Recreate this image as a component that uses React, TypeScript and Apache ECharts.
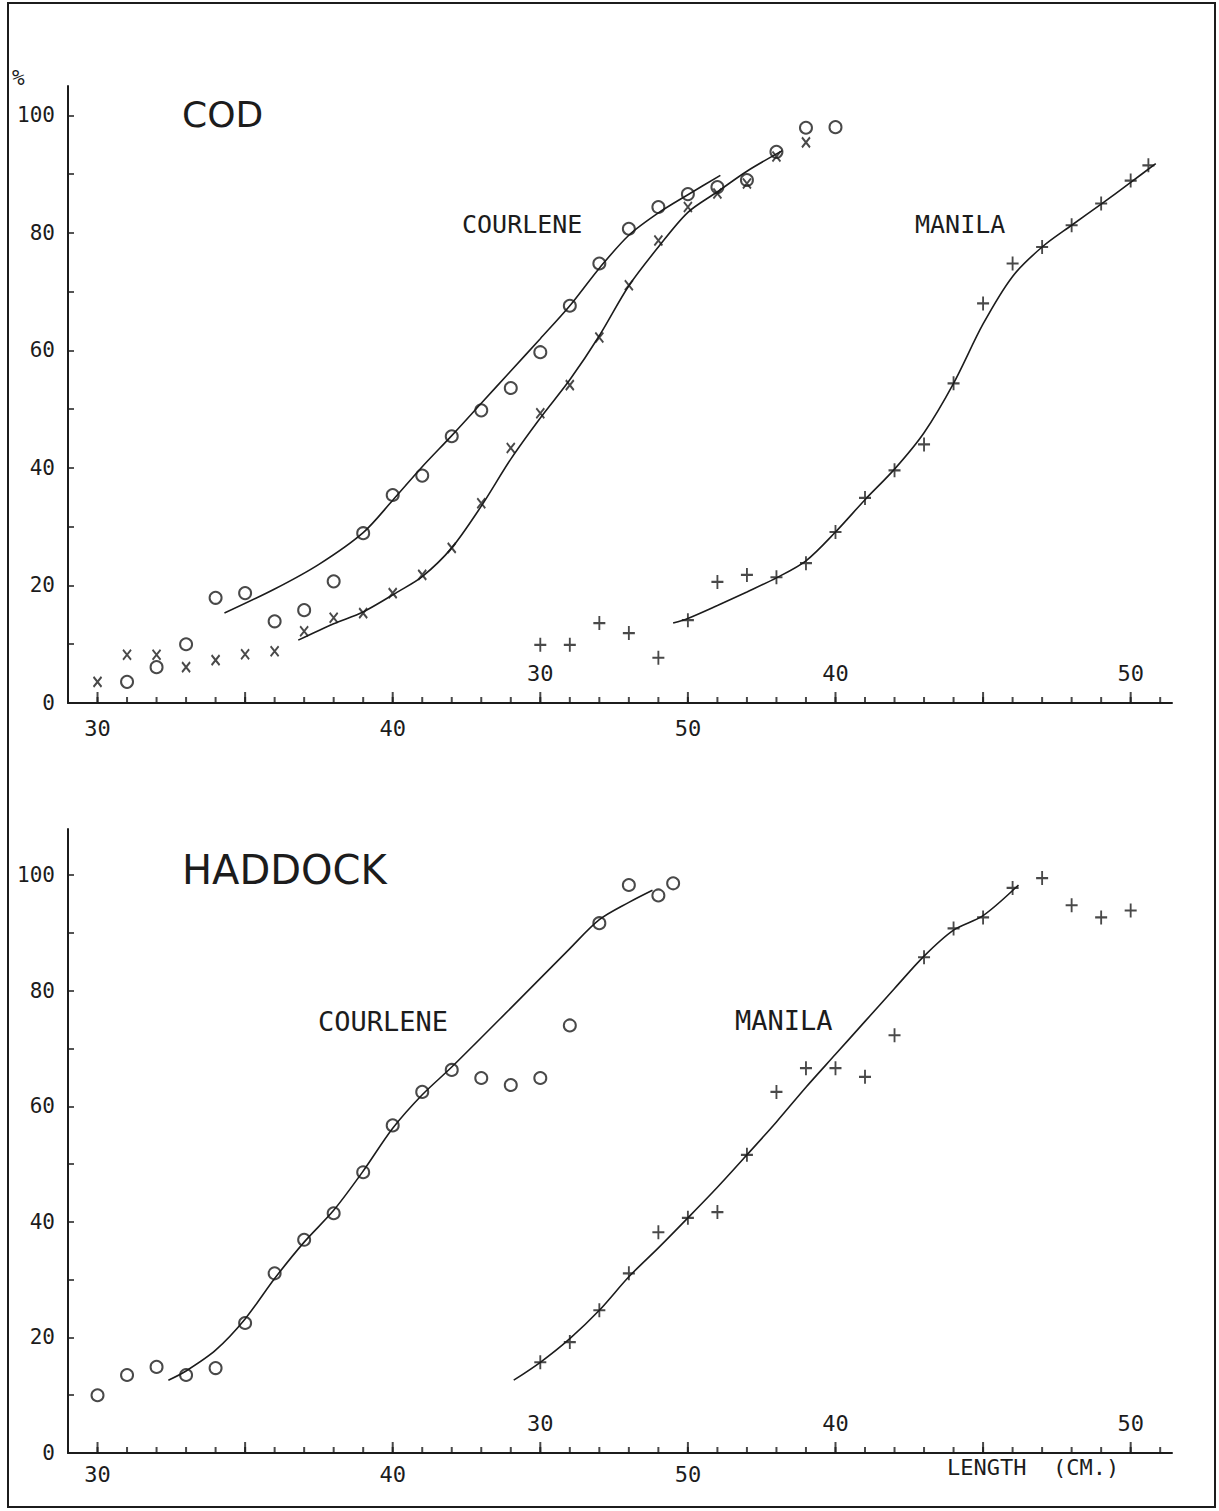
import React, { useEffect, useRef } from "react";
import * as echarts from "echarts";

// ---------- DATA ----------
// Axis tick / label values (cm for x, % for y)
const X_MINOR_TICKS = [30, 31, 32, 33, 34, 35, 36, 37, 38, 39, 40, 41, 42, 43, 44, 45, 46, 47, 48, 49, 50, 51, 52, 53, 54, 55, 56, 57, 58, 59, 60, 61, 62, 63, 64, 65, 66];
const X_MAJOR_TICKS = [30, 35, 40, 45, 50, 55, 60, 65];
const X_LABELS = [30, 40, 50];
const MANILA_LABELS = [30, 40, 50];
const Y_TICKS = [0, 10, 20, 30, 40, 50, 60, 70, 80, 90, 100];
const Y_LABELS = [0, 20, 40, 60, 80, 100];

// COD - Courlene (circles)
const codCircleLen = [31, 32, 33, 34, 35, 36, 37, 38, 39, 40, 41, 42, 43, 44, 45, 46, 47, 48, 49, 50, 51, 52, 53, 54, 55];
const codCirclePct = [3.6, 6.1, 10.0, 17.9, 18.7, 13.9, 15.8, 20.7, 28.9, 35.4, 38.7, 45.4, 49.8, 53.6, 59.7, 67.6, 74.8, 80.7, 84.4, 86.6, 87.8, 89.0, 93.8, 97.9, 98.0];
// COD - Courlene (crosses)
const codXLen = [30, 31, 32, 33, 34, 35, 36, 37, 38, 39, 40, 41, 42, 43, 44, 45, 46, 47, 48, 49, 50, 51, 52, 53, 54];
const codXPct = [3.6, 8.2, 8.2, 6.1, 7.3, 8.3, 8.8, 12.2, 14.5, 15.3, 18.7, 21.8, 26.4, 34.0, 43.4, 49.3, 54.1, 62.2, 71.1, 78.7, 84.4, 86.7, 88.4, 93.0, 95.4];
// COD - Manila (plus), manila length scale
const codManLen = [30, 31, 32, 33, 34, 35, 36, 37, 38, 39, 40, 41, 42, 43, 44, 45, 46, 47, 48, 49, 50, 50.6];
const codManPct = [9.9, 9.9, 13.6, 11.9, 7.7, 14.1, 20.6, 21.8, 21.4, 23.8, 29.1, 34.9, 39.6, 44.0, 54.4, 68.0, 74.8, 77.6, 81.3, 85.0, 88.9, 91.5];
// COD fitted curves
const codCircleCurveLen = [34.3, 36, 37.5, 39, 40, 41, 42, 43, 44, 45, 46, 47, 48, 49, 50, 51.1];
const codCircleCurvePct = [15.3, 19.4, 23.6, 29.0, 34.5, 40.2, 45.5, 51.0, 56.5, 62.0, 67.6, 74.0, 79.6, 83.4, 86.5, 89.8];
const codXCurveLen = [36.8, 38, 39, 40.2, 41, 42, 43, 44, 45, 46, 47, 48, 49, 50, 51, 52, 53.2];
const codXCurvePct = [10.7, 13.5, 15.5, 19.0, 21.5, 26.4, 33.5, 41.5, 48.5, 55.0, 62.5, 71.0, 77.6, 83.5, 87.0, 90.5, 94.0];
const codManCurveLen = [34.5, 35, 36, 37, 38, 39, 40, 41, 42, 43, 44, 45, 46, 47, 48, 49, 50, 50.85];
const codManCurvePct = [13.6, 14.4, 16.6, 18.9, 21.3, 24.2, 29.1, 34.6, 39.8, 46.0, 54.4, 64.5, 72.6, 77.6, 81.3, 84.9, 88.6, 91.8];

// HADDOCK - Courlene (circles)
const hadCircleLen = [30, 31, 32, 33, 34, 35, 36, 37, 38, 39, 40, 41, 42, 43, 44, 45, 46, 47, 48, 49, 49.5];
const hadCirclePct = [10.0, 13.5, 14.9, 13.5, 14.7, 22.5, 31.1, 36.9, 41.5, 48.6, 56.7, 62.5, 66.3, 64.9, 63.7, 64.9, 74.0, 91.7, 98.3, 96.5, 98.6];
// HADDOCK - Manila (plus), manila length scale
const hadManLen = [30, 31, 32, 33, 34, 35, 36, 37, 38, 39, 40, 41, 42, 43, 44, 45, 46, 47, 48, 49, 50];
const hadManPct = [15.7, 19.2, 24.7, 31.1, 38.2, 40.7, 41.7, 51.6, 62.5, 66.6, 66.6, 65.1, 72.3, 85.8, 90.8, 92.7, 97.8, 99.5, 94.8, 92.7, 93.9];
// HADDOCK fitted curves
const hadCourCurveLen = [32.4, 33, 34, 35, 36, 37, 38, 39, 40, 41, 42, 44, 46, 47, 48, 48.8];
const hadCourCurvePct = [12.6, 14.2, 17.8, 23.2, 30.2, 36.5, 42.0, 48.8, 56.2, 62.0, 66.8, 77.0, 87.3, 92.3, 95.3, 97.4];
const hadManCurveLen = [29.1, 30, 31, 32, 33, 34, 35, 36, 37, 38, 39, 40, 41, 42, 43, 44, 45, 46.2];
const hadManCurvePct = [12.6, 15.7, 19.8, 24.7, 30.5, 35.5, 40.7, 46.0, 51.6, 57.3, 63.3, 69.0, 74.7, 80.4, 86.0, 90.5, 93.0, 98.3];

// ---------- STYLE ----------
const INK = "#1c1c1c";
const MONO = "'DejaVu Sans Mono', monospace";
const SANS = "'DejaVu Sans', sans-serif";
const CROSS = "path://M0,0L8,10M8,0L0,10";
const PLUS = "path://M6,0L6,14M0,7L12,7";

const zip = (xs: number[], ys: number[]) => xs.map((x, i) => [x, ys[i]]);

function xAxes(gridIndex: number, labelMargin: number) {
  return [
    {
      type: "value", gridIndex, position: "bottom", min: 29, max: 66.4,
      axisLine: { show: true, onZero: false, lineStyle: { color: INK, width: 2 } },
      axisTick: { show: false },
      axisLabel: { show: true, customValues: X_LABELS, margin: labelMargin, fontFamily: MONO, fontSize: 22, color: INK },
      splitLine: { show: false },
    },
    {
      type: "value", gridIndex, position: "bottom", min: 14, max: 51.4,
      axisLine: { show: false },
      axisTick: { show: false },
      axisLabel: { show: true, inside: true, customValues: MANILA_LABELS, margin: 19, fontFamily: MONO, fontSize: 22, color: INK },
      splitLine: { show: false },
    },
  ];
}

function yAxis(gridIndex: number, max: number) {
  return {
    type: "value", gridIndex, min: 0, max,
    axisLine: { show: true, lineStyle: { color: INK, width: 2 } },
    axisTick: { show: true, inside: true, length: 6, customValues: Y_TICKS, lineStyle: { color: INK, width: 1.5 } },
    axisLabel: { show: true, customValues: Y_LABELS, margin: 13, fontFamily: MONO, fontSize: 21, color: INK },
    splitLine: { show: false },
  };
}

// tick marks standing up from the x axis line, placed through the axis scale
function ticks(name: string, xi: number, yi: number, values: number[], len: number) {
  return {
    type: "scatter", name, xAxisIndex: xi, yAxisIndex: yi,
    data: values.map((v) => [v, 0]),
    symbol: "rect", symbolSize: [2, len], symbolOffset: [0, -len / 2],
    itemStyle: { color: INK }, z: 1, silent: true, clip: false,
  };
}

function scatter(name: string, xi: number, yi: number, data: number[][], symbol: string, size: any) {
  return {
    type: "scatter", name, xAxisIndex: xi, yAxisIndex: yi, data, symbol, symbolSize: size,
    itemStyle: { color: "rgba(0,0,0,0)", borderColor: INK, borderWidth: 2 },
    z: 3, silent: true,
  };
}

function curve(name: string, xi: number, yi: number, data: number[][]) {
  return {
    type: "line", name, xAxisIndex: xi, yAxisIndex: yi, data,
    smooth: 0.3, showSymbol: false, symbol: "none",
    lineStyle: { color: INK, width: 1.6 }, z: 2, silent: true,
  };
}

function label(text: string, x: number, y: number, font: string, size: number) {
  return {
    type: "text", x, y, silent: true,
    style: { text, fill: INK, font: `${size}px ${font}`, textAlign: "left", textVerticalAlign: "middle" },
  };
}

// axis indices: grid0 -> 0 main, 1 manila; grid1 -> 2 main, 3 manila
const option = {
  animation: false,
  backgroundColor: "#ffffff",
  grid: [
    { left: 68, right: 47, top: 86, bottom: 808 },
    { left: 68, right: 47, top: 829, bottom: 58 },
  ],
  xAxis: [...xAxes(0, 14), ...xAxes(1, 10)],
  yAxis: [yAxis(0, 105), yAxis(1, 108)],
  series: [
    ticks("COD minor ticks", 0, 0, X_MINOR_TICKS, 6),
    ticks("COD major ticks", 0, 0, X_MAJOR_TICKS, 11),
    ticks("HADDOCK minor ticks", 2, 1, X_MINOR_TICKS, 6),
    ticks("HADDOCK major ticks", 2, 1, X_MAJOR_TICKS, 11),
    curve("COD courlene curve (o)", 0, 0, zip(codCircleCurveLen, codCircleCurvePct)),
    curve("COD courlene curve (x)", 0, 0, zip(codXCurveLen, codXCurvePct)),
    curve("COD manila curve", 1, 0, zip(codManCurveLen, codManCurvePct)),
    scatter("COD courlene o", 0, 0, zip(codCircleLen, codCirclePct), "circle", 12),
    scatter("COD courlene x", 0, 0, zip(codXLen, codXPct), CROSS, [8, 10]),
    scatter("COD manila +", 1, 0, zip(codManLen, codManPct), PLUS, [12, 14]),
    curve("HADDOCK courlene curve", 2, 1, zip(hadCourCurveLen, hadCourCurvePct)),
    curve("HADDOCK manila curve", 3, 1, zip(hadManCurveLen, hadManCurvePct)),
    scatter("HADDOCK courlene o", 2, 1, zip(hadCircleLen, hadCirclePct), "circle", 12),
    scatter("HADDOCK manila +", 3, 1, zip(hadManLen, hadManPct), PLUS, [12, 14]),
  ],
  graphic: [
    { type: "rect", silent: true, shape: { x: 8, y: 3, width: 1207, height: 1504 }, style: { fill: "none", stroke: INK, lineWidth: 2 } },
    label("%", 12, 78, MONO, 21),
    label("COD", 182, 114, SANS, 36),
    label("COURLENE", 462, 224, MONO, 25),
    label("MANILA", 915, 224, MONO, 25),
    label("HADDOCK", 182, 870, SANS, 40),
    label("COURLENE", 318, 1021, MONO, 27),
    label("MANILA", 735, 1020, MONO, 27),
    label("LENGTH  (CM.)", 947, 1467, MONO, 22),
  ],
};

export default function App() {
  const ref = useRef<HTMLDivElement>(null);
  useEffect(() => {
    const chart = echarts.init(ref.current!, null, { renderer: "svg" });
    chart.setOption(option as any);
    return () => chart.dispose();
  }, []);
  return (
    <div
      ref={ref}
      style={{ position: "absolute", left: 0, top: 0, width: 1219, height: 1511, background: "#fff" }}
    />
  );
}
